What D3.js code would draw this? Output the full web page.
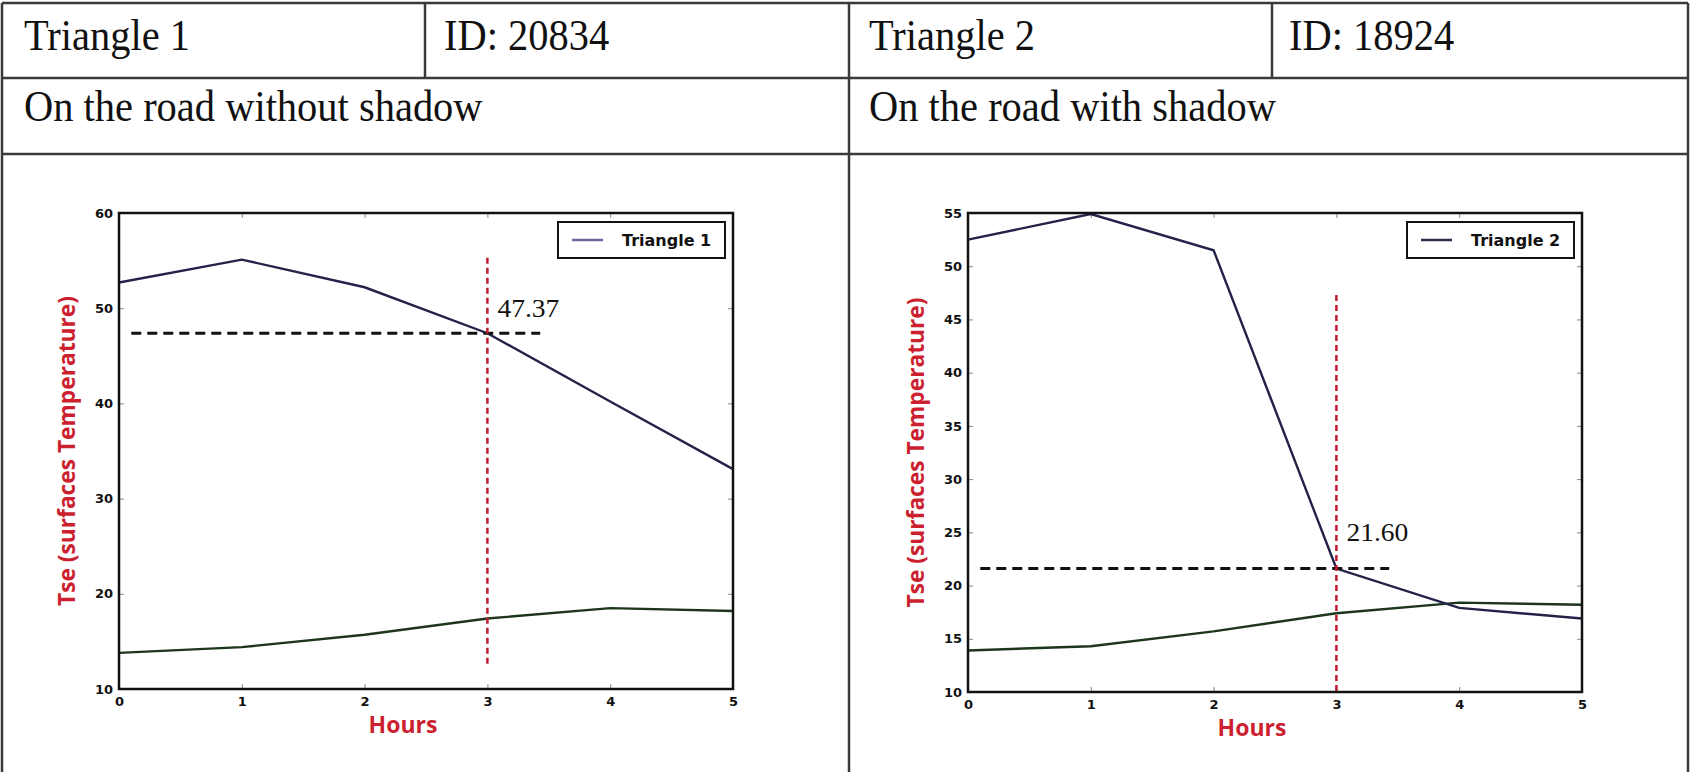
<!DOCTYPE html>
<html>
<head>
<meta charset="utf-8">
<script src="https://cdn.jsdelivr.net/npm/d3@7"></script>
<style>
  body { margin: 0; background: #fff; }
  svg { display: block; }
  .cell-text { font-family: "Liberation Serif", "Times New Roman", serif; font-size: 44px; fill: #111; }
  .tick text { font-family: "DejaVu Sans", sans-serif; font-weight: bold; font-size: 13px; fill: #111; }
  .axis-label { font-family: "Open Sans", sans-serif; font-weight: bold; font-size: 23px; fill: #cc1f2f; }
</style>
</head>
<body>
<div id="chart"></div>
<script>
// data
const hours = [0, 1, 2, 3, 4, 5];
const triangle1 = [52.7, 55.1, 52.2, 47.37, 40.2, 33.1];
const ground1 = [13.8, 14.4, 15.7, 17.4, 18.5, 18.2];
const triangle2 = [52.5, 54.9, 51.5, 21.6, 17.9, 16.9];
const ground2 = [13.9, 14.3, 15.7, 17.4, 18.4, 18.2];

const yTicks1 = [10, 20, 30, 40, 50, 60];
const yTicks2 = [10, 15, 20, 25, 30, 35, 40, 45, 50, 55];

const headerRow = ["Triangle 1", "ID: 20834", "Triangle 2", "ID: 18924"];
const placeRow = ["On the road without shadow", "On the road with shadow"];

const width = 1690;
const height = 772;

const svg = d3.select("#chart")
    .append("svg")
    .attr("width", width)
    .attr("height", height);

// table grid
const grid = svg.append("g")
    .attr("stroke", "#3a3a3a")
    .attr("stroke-width", 2.5);

[[2, 3, 1688, 3], [2, 78, 1688, 78], [2, 154, 1688, 154],
 [2, 3, 2, 772], [849, 3, 849, 772], [1688, 3, 1688, 772],
 [425, 3, 425, 78], [1272, 3, 1272, 78]].forEach(l => {
    grid.append("line")
        .attr("x1", l[0]).attr("y1", l[1])
        .attr("x2", l[2]).attr("y2", l[3]);
});

// header texts (the scan is a bit squeezed sideways)
function cellText(t, x, y) {
    svg.append("text")
        .attr("class", "cell-text")
        .attr("transform", `translate(${x},${y}) scale(0.92,1)`)
        .text(t);
}
const headerX = [24, 444, 869, 1289];
headerRow.forEach((t, i) => cellText(t, headerX[i], 50));
placeRow.forEach((t, i) => cellText(t, i === 0 ? 24 : 869, 121));

const panels = [
    {
        name: "Triangle 1", values: triangle1, ground: ground1,
        x0: 119, x1: 733, yTop: 213, yBottom: 689,
        domain: [10, 60], ticks: yTicks1,
        mark: 47.37, redSpan: [12.5, 55.3], labelText: "47.37", labelDy: -16,
        lineColor: "#23234a", legendColor: "#6a6a9c"
    },
    {
        name: "Triangle 2", values: triangle2, ground: ground2,
        x0: 968, x1: 1582, yTop: 213, yBottom: 692,
        domain: [10, 55], ticks: yTicks2,
        mark: 21.60, redSpan: [10, 47.3], labelText: "21.60", labelDy: -28,
        lineColor: "#23234a", legendColor: "#2c2c4c"
    }
];

panels.forEach(p => drawPanel(p));

function drawPanel(p) {
    const x = d3.scaleLinear().domain([0, 5]).range([p.x0, p.x1]);
    const y = d3.scaleLinear().domain(p.domain).range([p.yBottom, p.yTop]);
    const g = svg.append("g");

    // axes (ticks point inward, like old matplotlib)
    const left = g.append("g")
        .attr("transform", `translate(${p.x0},0)`)
        .call(d3.axisLeft(y).tickValues(p.ticks).tickSizeInner(-5).tickSizeOuter(0).tickPadding(6));
    const bottom = g.append("g")
        .attr("transform", `translate(0,${p.yBottom})`)
        .call(d3.axisBottom(x).tickValues(hours).tickFormat(d3.format("d"))
            .tickSizeInner(-5).tickSizeOuter(0).tickPadding(8));
    const right = g.append("g")
        .attr("transform", `translate(${p.x1},0)`)
        .call(d3.axisRight(y).tickValues(p.ticks).tickSizeInner(-5).tickSizeOuter(0).tickFormat(""));
    const top = g.append("g")
        .attr("transform", `translate(0,${p.yTop})`)
        .call(d3.axisTop(x).tickValues(hours).tickSizeInner(-5).tickSizeOuter(0).tickFormat(""));
    [left, bottom, right, top].forEach(a => {
        a.select(".domain").remove();
        a.selectAll(".tick line").attr("stroke", "#888").attr("stroke-width", 1);
    });

    const line = d3.line().x((d, i) => x(hours[i])).y(d => y(d));

    g.append("path")
        .datum(p.ground)
        .attr("fill", "none")
        .attr("stroke", "#1d351d")
        .attr("stroke-width", 2.4)
        .attr("d", line);

    g.append("path")
        .datum(p.values)
        .attr("fill", "none")
        .attr("stroke", p.lineColor)
        .attr("stroke-width", 2.4)
        .attr("d", line);

    // black dashed level line
    g.append("line")
        .attr("x1", x(0.1)).attr("x2", x(3.43))
        .attr("y1", y(p.mark)).attr("y2", y(p.mark))
        .attr("stroke", "#111")
        .attr("stroke-width", 3)
        .attr("stroke-dasharray", "10,6");

    // red dashed line at hour 3
    g.append("line")
        .attr("x1", x(3)).attr("x2", x(3))
        .attr("y1", y(p.redSpan[1])).attr("y2", y(p.redSpan[0]))
        .attr("stroke", "#c01c30")
        .attr("stroke-width", 2.5)
        .attr("stroke-dasharray", "6,4");

    g.append("text")
        .attr("x", x(3) + 10)
        .attr("y", y(p.mark) + p.labelDy)
        .attr("font-family", "Liberation Serif, serif")
        .attr("font-size", 26)
        .attr("textLength", 62)
        .attr("lengthAdjust", "spacingAndGlyphs")
        .attr("fill", "#111")
        .text(p.labelText);

    // frame
    g.append("rect")
        .attr("x", p.x0).attr("y", p.yTop)
        .attr("width", p.x1 - p.x0).attr("height", p.yBottom - p.yTop)
        .attr("fill", "none")
        .attr("stroke", "#111")
        .attr("stroke-width", 2.5);

    // legend
    const lx = p.x1 - 8 - 167;
    const ly = p.yTop + 9;
    g.append("rect")
        .attr("x", lx).attr("y", ly)
        .attr("width", 167).attr("height", 36)
        .attr("fill", "#fff")
        .attr("stroke", "#111")
        .attr("stroke-width", 2);
    g.append("line")
        .attr("x1", lx + 14).attr("x2", lx + 45)
        .attr("y1", ly + 18).attr("y2", ly + 18)
        .attr("stroke", p.legendColor)
        .attr("stroke-width", 2.5);
    g.append("text")
        .attr("x", lx + 64)
        .attr("y", ly + 24)
        .attr("font-family", "DejaVu Sans, sans-serif")
        .attr("font-weight", "bold")
        .attr("font-size", 16)
        .attr("fill", "#111")
        .text(p.name);

    // axis titles
    g.append("text")
        .attr("class", "axis-label")
        .attr("x", p.x0 + 284)
        .attr("y", p.yBottom + 44)
        .attr("text-anchor", "middle")
        .text("Hours");
    g.append("text")
        .attr("class", "axis-label")
        .attr("transform", `translate(${p.x0 - 44},${(p.yTop + p.yBottom) / 2}) rotate(-90)`)
        .attr("text-anchor", "middle")
        .attr("textLength", 310)
        .attr("lengthAdjust", "spacingAndGlyphs")
        .text("Tse (surfaces Temperature)");
}
</script>
</body>
</html>
